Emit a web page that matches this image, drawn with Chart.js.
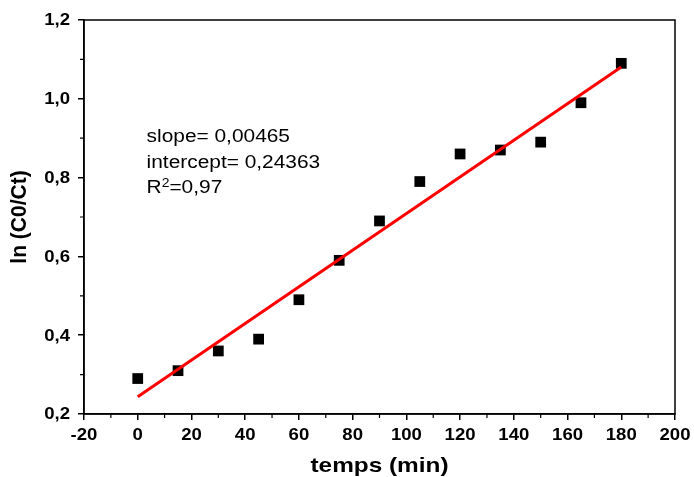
<!DOCTYPE html>
<html>
<head>
<meta charset="utf-8">
<script src="https://cdn.jsdelivr.net/npm/chart.js@4/dist/chart.umd.min.js"></script>
<style>
html,body{margin:0;padding:0;background:#fff;}
#wrap{position:relative;width:694px;height:477px;}
</style>
</head>
<body>
<div id="wrap"><canvas id="c" width="694" height="477"></canvas></div>
<script>
// Data
const timeMin = [0, 15, 30, 45, 60, 75, 90, 105, 120, 135, 150, 165, 180];
const lnC0Ct = [0.29, 0.31, 0.36, 0.39, 0.49, 0.59, 0.69, 0.79, 0.86, 0.87, 0.89, 0.99, 1.09];
const fitX = [0, 180];
const fitY = [0.24363, 1.08063];
const xTicks = [-20, 0, 20, 40, 60, 80, 100, 120, 140, 160, 180, 200];
const yTicks = [0.2, 0.4, 0.6, 0.8, 1.0, 1.2];
const xTitle = "temps (min)";
const yTitle = "ln (C0/Ct)";
const annotLines = ["slope= 0,00465", "intercept= 0,24363", "R", "=0,97"];

const FONT = "'Liberation Sans', Arial, sans-serif";
const SX = 1.16; // horizontal stretch of the reference text

function stretchedText(ctx, text, x, y, align) {
  ctx.save();
  ctx.translate(x, y);
  ctx.scale(SX, 1);
  ctx.textAlign = align;
  ctx.fillText(text, 0, 0);
  ctx.restore();
}

const frameAndText = {
  id: 'frameAndText',
  afterDraw(chart) {
    const ctx = chart.ctx, a = chart.chartArea;
    const xs = chart.scales.x, ys = chart.scales.y;
    ctx.save();
    ctx.strokeStyle = '#000';
    ctx.lineWidth = 1.5;
    ctx.strokeRect(a.left, a.top, a.right - a.left, a.bottom - a.top);
    // minor ticks
    ctx.lineWidth = 1.2;
    ctx.beginPath();
    for (let i = 0; i < xTicks.length - 1; i++) {
      const px = xs.getPixelForValue((xTicks[i] + xTicks[i + 1]) / 2);
      ctx.moveTo(px, a.bottom); ctx.lineTo(px, a.bottom + 4);
    }
    for (let i = 0; i < yTicks.length - 1; i++) {
      const py = ys.getPixelForValue((yTicks[i] + yTicks[i + 1]) / 2);
      ctx.moveTo(a.left, py); ctx.lineTo(a.left - 4, py);
    }
    ctx.stroke();

    ctx.fillStyle = '#000';
    // tick labels
    ctx.font = "bold 16px " + FONT;
    ctx.textBaseline = 'middle';
    xTicks.forEach(v => {
      stretchedText(ctx, String(v), xs.getPixelForValue(v), a.bottom + 22, 'center');
    });
    yTicks.forEach(v => {
      stretchedText(ctx, v.toFixed(1).replace('.', ','), a.left - 14, ys.getPixelForValue(v) + 1, 'right');
    });
    // axis titles
    ctx.font = "bold 21px " + FONT;
    stretchedText(ctx, xTitle, (a.left + a.right) / 2, a.bottom + 52, 'center');
    ctx.save();
    ctx.translate(20, (a.top + a.bottom) / 2);
    ctx.rotate(-Math.PI / 2);
    ctx.scale(1, SX * 0.9);
    ctx.textAlign = 'center';
    ctx.textBaseline = 'middle';
    ctx.fillText(yTitle, 0, 0);
    ctx.restore();

    // annotation text
    ctx.textBaseline = 'alphabetic';
    ctx.font = "18px " + FONT;
    const x0 = xs.getPixelForValue(3.3);
    stretchedText(ctx, annotLines[0], x0, 142, 'left');
    stretchedText(ctx, annotLines[1], x0, 167.5, 'left');
    stretchedText(ctx, annotLines[2], x0, 193, 'left');
    const wR = ctx.measureText(annotLines[2]).width * SX;
    ctx.font = "12px " + FONT;
    stretchedText(ctx, "2", x0 + wR, 187, 'left');
    const w2 = ctx.measureText("2").width * SX;
    ctx.font = "18px " + FONT;
    stretchedText(ctx, annotLines[3], x0 + wR + w2, 193, 'left');
    ctx.restore();
  }
};

new Chart(document.getElementById('c'), {
  data: {
    datasets: [
      {
        type: 'scatter',
        data: timeMin.map((t, i) => ({x: t, y: lnC0Ct[i]})),
        pointStyle: 'rect',
        pointRadius: 7.6,
        backgroundColor: '#000',
        borderWidth: 0,
        order: 2
      },
      {
        type: 'line',
        data: fitX.map((t, i) => ({x: t, y: fitY[i]})),
        borderColor: '#ff0000',
        borderWidth: 3,
        pointRadius: 0,
        fill: false,
        order: 1
      }
    ]
  },
  options: {
    responsive: false,
    animation: false,
    layout: {padding: {top: 20, right: 19, left: 0, bottom: 0}},
    plugins: {legend: {display: false}, tooltip: {enabled: false}},
    scales: {
      x: {
        type: 'linear', min: -20, max: 200,
        afterBuildTicks(s) { s.ticks = xTicks.map(v => ({value: v})); },
        afterFit(s) { s.height = 63; },
        grid: {drawOnChartArea: false, tickLength: 6, color: '#000', lineWidth: 1.5},
        border: {color: '#000', width: 1.5},
        ticks: {display: false},
        title: {display: false}
      },
      y: {
        type: 'linear', min: 0.2, max: 1.2,
        afterBuildTicks(s) { s.ticks = yTicks.map(v => ({value: v})); },
        afterFit(s) { s.width = 84; },
        grid: {drawOnChartArea: false, tickLength: 6, color: '#000', lineWidth: 1.5},
        border: {color: '#000', width: 1.5},
        ticks: {display: false},
        title: {display: false}
      }
    }
  },
  plugins: [frameAndText]
});
</script>
</body>
</html>
